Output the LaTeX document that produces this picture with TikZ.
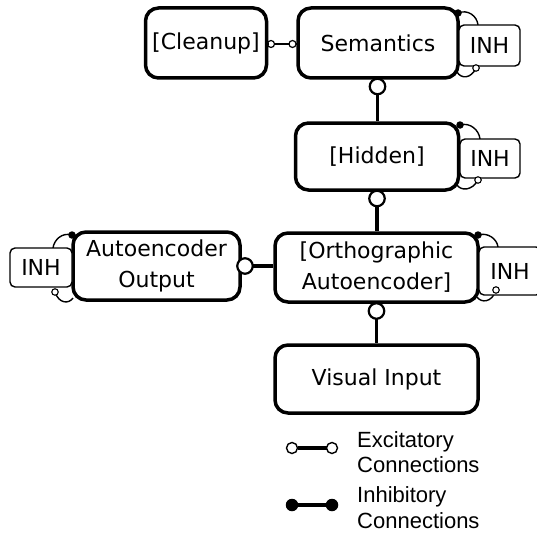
\documentclass[tikz,border=0pt]{standalone}
\usepackage{fontspec}
\setmainfont{Liberation Sans}
\newfontfamily\boxfont{DejaVu Sans}
\usetikzlibrary{arrows.meta}
\begin{document}
\begin{tikzpicture}[x=1pt,y=-1pt,
  unit/.style={draw, line width=3.5pt, rounded corners=13pt, align=center, inner sep=0pt,
    font=\boxfont\fontsize{22}{31}\selectfont},
  inhbox/.style={draw, line width=1.4pt, rounded corners=5pt, inner sep=0pt, fill=white,
    font=\boxfont\fontsize{22}{26}\selectfont},
  conn/.style={line width=3.5pt},
  loopline/.style={line width=1.4pt},
  legtext/.style={anchor=base west, inner sep=0pt, font=\fontsize{22}{25}\selectfont},
  excbig/.style={circle, draw, fill=white, line width=2.2pt, minimum size=15.5pt, inner sep=0pt, outer sep=0pt},
  excsmall/.style={circle, draw, fill=white, line width=1.2pt, minimum size=7pt, inner sep=0pt, outer sep=0pt},
  exclegend/.style={circle, draw, fill=white, line width=1.4pt, minimum size=11pt, inner sep=0pt, outer sep=0pt},
  inhlegend/.style={circle, fill=black, minimum size=12.5pt, inner sep=0pt, outer sep=0pt},
  inhdot/.style={circle, fill=black, minimum size=7.5pt, inner sep=0pt, outer sep=0pt},
  excloop/.style={circle, draw, fill=white, line width=1.1pt, minimum size=6.5pt, inner sep=0pt, outer sep=0pt}
]
\useasboundingbox (0,0) rectangle (537,532);

% main units
\node[unit, minimum width=121pt, minimum height=70pt] (cleanup) at (206,43) {[Cleanup]};
\node[unit, minimum width=160pt, minimum height=70pt] (sem) at (378,43) {Semantics};
\node[unit, minimum width=163pt, minimum height=67pt] (hid) at (377,156.5) {[Hidden]};
\node[unit, minimum width=203pt, minimum height=69pt] (orth) at (376.5,267.5) {[Orthographic\\Autoencoder]};
\node[unit, minimum width=167pt, minimum height=68pt] (aout) at (156.5,266) {Autoencoder\\Output};
\node[unit, minimum width=203pt, minimum height=68pt] (vis) at (376.5,379) {Visual Input};

% INH loops
\coordinate (s1) at (458,13);  \coordinate (s2) at (478,25);
\coordinate (s3) at (457,72);  \coordinate (s4) at (476,68);
\draw[loopline] (s1) .. controls (468,9) and (477,16) .. (s2);
\draw[loopline] (s3) .. controls (461,79) and (471,79) .. (s4);

\coordinate (h1) at (460,125); \coordinate (h2) at (480,139);
\coordinate (h3) at (457,185); \coordinate (h4) at (478,180);
\draw[loopline] (h1) .. controls (470,122) and (479,130) .. (h2);
\draw[loopline] (h3) .. controls (461,191) and (472,191) .. (h4);

\coordinate (o1) at (478,235); \coordinate (o2) at (498,247);
\coordinate (o3) at (477,297); \coordinate (o4) at (496,290);
\draw[loopline] (o1) .. controls (488,232) and (497,239) .. (o2);
\draw[loopline] (o3) .. controls (481,303) and (492,303) .. (o4);

\coordinate (a1) at (72,235); \coordinate (a2) at (53,248);
\coordinate (a3) at (73,298); \coordinate (a4) at (55,292);
\draw[loopline] (a1) .. controls (62,232) and (54,240) .. (a2);
\draw[loopline] (a3) .. controls (69,304) and (59,304) .. (a4);

% INH boxes
\node[inhbox, minimum width=61pt, minimum height=41pt] (inh1) at (489.5,45.5) {INH};
\node[inhbox, minimum width=60pt, minimum height=39pt] (inh2) at (490,158.5) {INH};
\node[inhbox, minimum width=62pt, minimum height=48pt] (inh3) at (510,271) {INH};
\node[inhbox, minimum width=62pt, minimum height=39pt] (inh4) at (41,267.5) {INH};
\node[inhdot] (sd) at (s1) {}; \node[inhdot] (hd) at (h1) {};
\node[inhdot] (od) at (o1) {}; \node[inhdot] (ad) at (a1) {};
\node[excloop] (se) at (s4) {}; \node[excloop] (he) at (h4) {};
\node[excloop] (oe) at (o4) {}; \node[excloop] (ae) at (a4) {};

% excitatory connections
\node[excsmall] (cl1) at (271,44) {};
\node[excsmall] (cl2) at (292.5,44) {};
\draw[line width=2pt] (cl1) -- (cl2);
\draw[line width=1.6pt] (cleanup.east |- cl1) -- (cl1) (cl2) -- (sem.west |- cl2);

\node[excbig] (c1) at (377.5,86.5) {};
\draw[conn] (c1) -- (c1 |- hid.north);
\node[excbig] (c2) at (377,198.5) {};
\draw[conn] (c2) -- (c2 |- orth.north);
\node[excbig] (c3) at (376.5,311) {};
\draw[conn] (c3) -- (c3 |- vis.north);
\node[excbig] (c4) at (245,266) {};
\draw[conn] (c4) -- (orth.west |- c4);

% legend
\node[exclegend] (e1) at (292,448) {};
\node[exclegend] (e2) at (332,448) {};
\draw[conn] (e1) -- (e2);
\node[inhlegend] (i1) at (292,505) {};
\node[inhlegend] (i2) at (332,505) {};
\draw[conn] (i1) -- (i2);
\node[legtext] (l1) at (357,447) {Excitatory};
\node[legtext] (l2) at (357,472) {Connections};
\node[legtext] (l3) at (357,502) {Inhibitory};
\node[legtext] (l4) at (357,528) {Connections};
\end{tikzpicture}
\end{document}
